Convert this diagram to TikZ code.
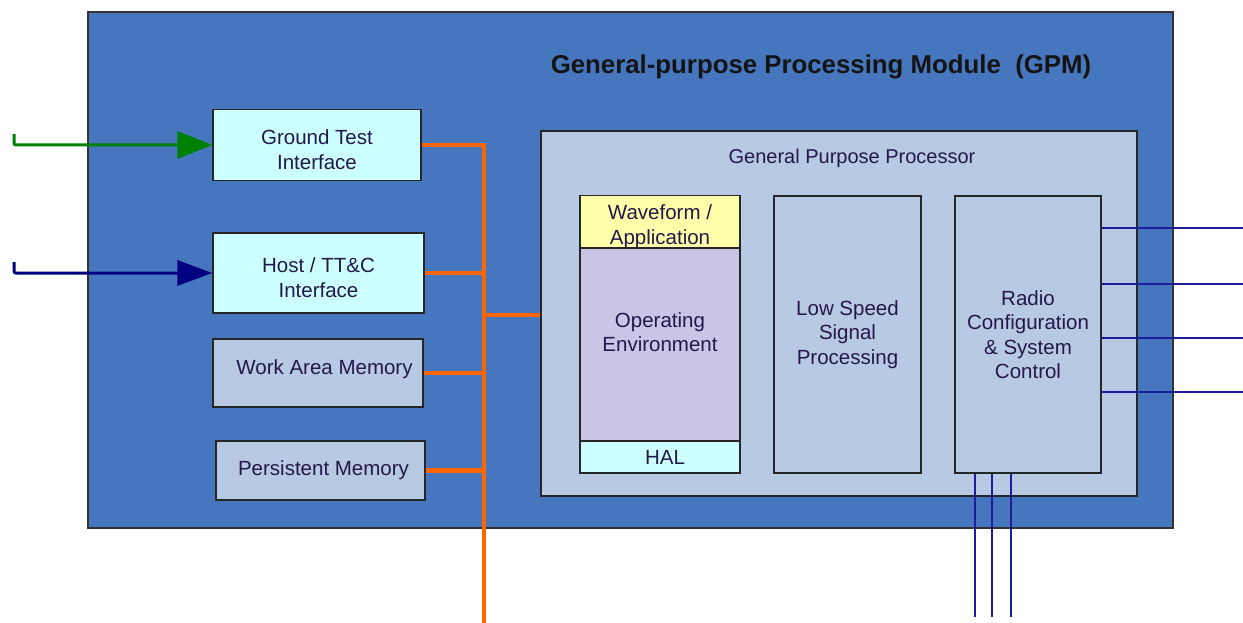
\documentclass[tikz,border=0pt]{standalone}
\usepackage{fontspec}
\setmainfont{Liberation Sans}
\usetikzlibrary{arrows.meta,calc}
\definecolor{gpmblue}{HTML}{4677BE}
\definecolor{paleblue}{HTML}{B8C9E3}
\definecolor{palecyan}{HTML}{CCFFFF}
\definecolor{paleyellow}{HTML}{FFFFAA}
\definecolor{lavender}{HTML}{CAC4E7}
\definecolor{busorange}{HTML}{FF6600}
\definecolor{arrgreen}{HTML}{008000}
\definecolor{arrnavy}{HTML}{000080}
\definecolor{sigblue}{HTML}{1C1C9C}
\definecolor{txt}{HTML}{24184A}
\tikzset{
  box/.style={draw=black!85, line width=1.2pt, rectangle, inner sep=0pt, align=center,
    text=txt, font=\fontsize{20.5}{24.5}\selectfont},
  bus/.style={draw=busorange, line width=3.4pt},
  sig/.style={draw=sigblue, line width=1.4pt},
}
\begin{document}
\begin{tikzpicture}[x=1pt,y=-1pt]
\useasboundingbox (0,0) rectangle (1243,623);
% outer module
\node[draw=black!80, line width=1.5pt, fill=gpmblue, minimum width=1085pt, minimum height=516pt, inner sep=0pt] (gpm) at (630.5,270) {};
\node[font=\fontsize{25.8}{30}\selectfont\bfseries, text=black!92] (title) at (821,67) {General-purpose Processing Module\ \ (GPM)};
% left boxes
\node[box, fill=palecyan, minimum width=208pt, minimum height=71pt] (gti) at (317,145) {\mbox{}\\Ground Test\\Interface};
\node[box, fill=palecyan, minimum width=211pt, minimum height=80pt] (host) at (318.5,273) {\mbox{}\\Host / TT\&C\\Interface};
\node[box, fill=paleblue, minimum width=210pt, minimum height=68pt] (wam) at (318,373) {\raisebox{-1pt}[0pt][0pt]{\hspace{13pt}Work Area Memory}};
\node[box, fill=paleblue, minimum width=209pt, minimum height=59pt] (pm) at (320.5,470.5) {\raisebox{3pt}{\hspace{6pt}Persistent Memory}};
% GPP
\node[box, fill=paleblue, minimum width=596pt, minimum height=365pt] (gpp) at (839,313.5) {};
\node[text=txt, font=\fontsize{20}{24}\selectfont] (gpplab) at (852,158) {General Purpose Processor};
\node[box, fill=paleyellow, minimum width=160pt, minimum height=52pt] (wf) at (660,222) {\mbox{}\\Waveform /\\Application};
\node[box, fill=lavender, minimum width=160pt, minimum height=193pt] (oe) at (660,344.5) {Operating\\Environment\\\mbox{}};
\node[box, fill=palecyan, minimum width=160pt, minimum height=32pt] (hal) at (660,457) {\hspace{10pt}HAL};
\node[box, fill=paleblue, minimum width=147pt, minimum height=277pt] (lssp) at (847.5,334.5) {Low Speed\\Signal\\Processing};
\node[box, fill=paleblue, minimum width=146pt, minimum height=277pt] (rcs) at (1028,334.5) {Radio\\Configuration\\\& System\\Control};
% bus
\coordinate (busbot) at (484,623);
\coordinate (busjoin) at (484,315);
\draw[bus] (gti.east) -| (busbot);
\draw[bus] (host.east) -- (host.east -| busbot);
\draw[bus] (wam.east) -- (wam.east -| busbot);
\draw[bus, line width=5pt] (pm.east) -- (pm.east -| busbot);
\draw[bus] (busjoin) -- (busjoin -| gpp.west);
% input arrows
\coordinate (g0) at (14,134);
\coordinate (h0) at (14,262);
\draw[draw=arrgreen, line width=3pt, rounded corners=2pt, -{Triangle[length=35pt,width=27pt]}] (g0) |- (gti.west);
\draw[draw=arrnavy, line width=3pt, rounded corners=2pt, -{Triangle[length=35pt,width=25pt]}] (h0) |- (host.west);
% right signal lines
\foreach \i/\y in {1/228,2/284,3/338,4/392}{
  \coordinate (r\i) at (1243,\y);
  \draw[sig] (rcs.east |- r\i) -- (r\i);
}
% bottom signal lines
\foreach \i/\x in {1/975,2/992,3/1011}{
  \coordinate (b\i) at (\x,617);
  \draw[sig] (rcs.south -| b\i) -- (b\i);
}
\end{tikzpicture}
\end{document}
